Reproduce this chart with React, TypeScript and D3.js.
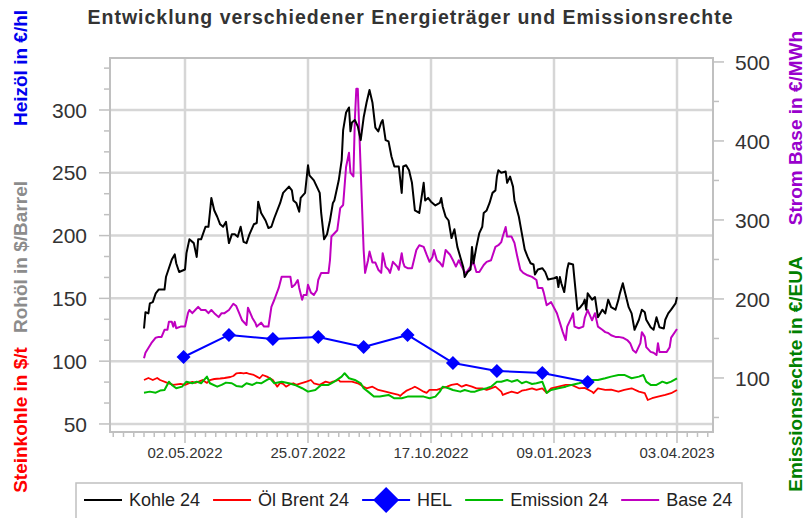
import { useEffect, useRef } from 'react';
import * as d3 from 'd3';

// Steinkohle (Kohle 24), $/t, left axis
const kohle24: [string, number][] = [
  ['2022-04-04',126],['2022-04-05',139],['2022-04-07',138],['2022-04-08',146],['2022-04-10',147],['2022-04-12',154],['2022-04-14',157],['2022-04-18',157],['2022-04-19',167],['2022-04-21',174],['2022-04-23',181],['2022-04-25',185],['2022-04-26',178],['2022-04-28',171],
  ['2022-05-02',173],['2022-05-03',186],['2022-05-05',197],['2022-05-08',194],['2022-05-10',183],['2022-05-11',197],['2022-05-13',197],['2022-05-16',207],['2022-05-18',207],['2022-05-19',218],['2022-05-20',230],['2022-05-22',220],['2022-05-24',215],['2022-05-26',209],['2022-05-28',207],['2022-05-30',211],
  ['2022-06-01',194],['2022-06-03',201],['2022-06-05',201],['2022-06-07',199],['2022-06-09',207],['2022-06-11',195],['2022-06-13',194],['2022-06-15',201],['2022-06-18',209],['2022-06-20',210],['2022-06-21',227],['2022-06-23',218],['2022-06-26',212],['2022-06-28',206],['2022-06-30',207],
  ['2022-07-02',214],['2022-07-06',226],['2022-07-08',234],['2022-07-12',239],['2022-07-14',236],['2022-07-15',228],['2022-07-17',226],['2022-07-19',219],['2022-07-20',230],['2022-07-23',234],['2022-07-25',256],['2022-07-26',248],['2022-07-29',244],['2022-07-31',239],
  ['2022-08-02',234],['2022-08-03',218],['2022-08-05',197],['2022-08-07',201],['2022-08-09',212],['2022-08-11',226],['2022-08-12',228],['2022-08-15',244],['2022-08-17',260],['2022-08-18',284],['2022-08-20',298],['2022-08-22',302],['2022-08-23',283],['2022-08-24',290],['2022-08-26',292],['2022-08-28',287],['2022-08-30',276],
  ['2022-09-01',294],['2022-09-03',306],['2022-09-05',316],['2022-09-07',306],['2022-09-09',286],['2022-09-11',283],['2022-09-13',290],['2022-09-14',292],['2022-09-16',276],['2022-09-18',275],['2022-09-20',263],['2022-09-22',255],['2022-09-25',255],['2022-09-27',234],['2022-09-28',255],['2022-09-30',256],
  ['2022-10-02',252],['2022-10-04',242],['2022-10-06',220],['2022-10-09',218],['2022-10-11',234],['2022-10-12',242],['2022-10-13',228],['2022-10-15',230],['2022-10-17',227],['2022-10-20',224],['2022-10-23',226],['2022-10-24',230],['2022-10-25',223],['2022-10-27',215],['2022-10-29',212],['2022-10-30',205],['2022-10-31',198],
  ['2022-11-02',205],['2022-11-04',191],['2022-11-06',183],['2022-11-08',175],['2022-11-09',167],['2022-11-11',171],['2022-11-13',173],['2022-11-14',191],['2022-11-15',178],['2022-11-17',191],['2022-11-19',202],['2022-11-21',207],['2022-11-22',218],['2022-11-24',220],['2022-11-26',226],['2022-11-28',234],['2022-11-30',236],
  ['2022-12-01',247],['2022-12-02',252],['2022-12-04',250],['2022-12-07',251],['2022-12-08',242],['2022-12-10',247],['2022-12-12',239],['2022-12-13',228],['2022-12-16',215],['2022-12-18',202],['2022-12-20',189],['2022-12-22',183],['2022-12-24',178],['2022-12-26',177],['2022-12-27',169],['2022-12-29',173],
  ['2023-01-01',174],['2023-01-03',171],['2023-01-05',165],['2023-01-09',166],['2023-01-11',167],['2023-01-12',159],['2023-01-13',167],['2023-01-14',162],['2023-01-16',155],['2023-01-18',173],['2023-01-19',178],['2023-01-22',177],['2023-01-23',165],['2023-01-25',141],['2023-01-27',143],['2023-01-29',146],['2023-01-30',149],['2023-01-31',141],
  ['2023-02-01',154],['2023-02-04',149],['2023-02-06',151],['2023-02-08',135],['2023-02-11',141],['2023-02-13',138],['2023-02-15',149],['2023-02-17',143],['2023-02-20',141],['2023-02-22',149],['2023-02-23',154],['2023-02-25',162],['2023-02-26',157],
  ['2023-03-01',143],['2023-03-03',138],['2023-03-05',125],['2023-03-08',133],['2023-03-10',141],['2023-03-12',139],['2023-03-13',133],['2023-03-16',127],['2023-03-18',125],['2023-03-20',135],['2023-03-22',127],['2023-03-25',126],['2023-03-26',133],['2023-03-28',138],['2023-03-30',141],['2023-04-02',146],['2023-04-03',151],
];

// Rohöl (Öl Brent 24), $/Barrel, left axis
const brent24: [string, number][] = [
  ['2022-04-04',85.0],['2022-04-07',86.6],['2022-04-10',85.0],['2022-04-13',86.6],['2022-04-15',85.0],['2022-04-20',82.7],['2022-04-22',81.9],['2022-04-24',81.1],['2022-04-29',81.9],
  ['2022-05-02',81.1],['2022-05-07',83.5],['2022-05-09',82.7],['2022-05-11',83.5],['2022-05-14',85.0],['2022-05-17',82.7],['2022-05-19',85.0],['2022-05-22',85.8],['2022-05-26',86.2],['2022-05-29',86.6],
  ['2022-06-02',87.4],['2022-06-04',88.2],['2022-06-06',90.2],['2022-06-09',90.6],['2022-06-11',90.2],['2022-06-13',90.6],['2022-06-15',89.8],['2022-06-18',89.0],['2022-06-20',87.7],['2022-06-22',86.4],['2022-06-24',89.0],['2022-06-27',87.7],['2022-06-29',86.4],
  ['2022-07-01',85.0],['2022-07-04',79.7],['2022-07-06',82.7],['2022-07-08',81.9],['2022-07-10',79.7],['2022-07-13',81.9],['2022-07-15',82.4],['2022-07-17',81.1],['2022-07-19',81.9],['2022-07-24',83.7],['2022-07-27',85.0],['2022-07-29',82.4],
  ['2022-08-02',81.1],['2022-08-06',83.7],['2022-08-09',82.7],['2022-08-11',83.7],['2022-08-15',85.0],['2022-08-16',83.7],['2022-08-19',83.7],['2022-08-24',83.7],['2022-08-28',82.4],
  ['2022-09-01',79.7],['2022-09-03',78.4],['2022-09-07',79.7],['2022-09-11',77.1],['2022-09-16',75.7],['2022-09-20',74.5],['2022-09-25',73.1],['2022-09-26',72.3],['2022-09-28',74.5],['2022-09-30',76.3],
  ['2022-10-04',78.4],['2022-10-06',79.7],['2022-10-08',78.4],['2022-10-12',75.7],['2022-10-14',74.7],['2022-10-16',77.1],['2022-10-21',77.1],['2022-10-24',78.4],['2022-10-28',79.7],['2022-10-31',81.1],
  ['2022-11-04',81.9],['2022-11-07',79.7],['2022-11-10',81.1],['2022-11-14',79.7],['2022-11-17',78.4],['2022-11-21',78.4],['2022-11-24',77.1],['2022-11-27',78.4],['2022-11-30',79.7],
  ['2022-12-04',75.7],['2022-12-05',73.1],['2022-12-08',74.5],['2022-12-11',75.7],['2022-12-15',74.5],['2022-12-18',76.5],['2022-12-21',77.1],['2022-12-25',78.4],['2022-12-28',77.1],
  ['2023-01-01',78.4],['2023-01-04',74.7],['2023-01-07',78.4],['2023-01-12',79.7],['2023-01-17',81.1],['2023-01-21',81.1],['2023-01-26',78.4],['2023-01-30',78.7],
  ['2023-02-04',75.7],['2023-02-05',74.5],['2023-02-08',78.4],['2023-02-13',77.1],['2023-02-17',77.3],['2023-02-22',75.7],['2023-02-26',77.1],
  ['2023-03-03',78.4],['2023-03-08',75.7],['2023-03-12',74.5],['2023-03-14',69.1],['2023-03-17',70.5],['2023-03-21',71.8],['2023-03-26',73.1],['2023-03-30',74.5],['2023-04-03',77.1],
];

// Heizöl (HEL), €/hl, left axis, monthly
const helDates = ['2022-05-01','2022-06-01','2022-07-01','2022-08-01','2022-09-01','2022-10-01','2022-11-01','2022-12-01','2023-01-01','2023-02-01'];
const helValues = [103.3, 120.9, 117.7, 119.3, 111.3, 120.9, 98.6, 92.2, 90.6, 83.4];

// Emissionsrechte (Emission 24), €/EUA, right axis
const emission24: [string, number][] = [
  ['2022-04-04',81.4],['2022-04-08',82.7],['2022-04-12',81.4],['2022-04-15',84.0],['2022-04-18',84.8],['2022-04-21',95.3],['2022-04-23',91.2],['2022-04-26',87.0],['2022-04-30',89.0],
  ['2022-05-03',95.3],['2022-05-07',93.3],['2022-05-10',95.3],['2022-05-13',93.3],['2022-05-17',101.7],['2022-05-19',93.3],['2022-05-24',89.0],['2022-05-27',91.2],['2022-05-30',94.1],
  ['2022-06-03',93.3],['2022-06-06',89.9],['2022-06-10',89.0],['2022-06-13',93.3],['2022-06-17',91.2],['2022-06-20',94.1],['2022-06-23',93.3],['2022-06-27',97.5],['2022-06-29',99.6],
  ['2022-07-02',93.3],['2022-07-07',95.3],['2022-07-12',93.3],['2022-07-16',91.2],['2022-07-21',87.0],['2022-07-25',82.7],['2022-07-30',84.8],
  ['2022-08-03',91.2],['2022-08-08',91.2],['2022-08-12',95.3],['2022-08-17',101.7],['2022-08-19',106.0],['2022-08-22',99.6],['2022-08-26',97.5],['2022-08-30',93.3],
  ['2022-09-01',87.0],['2022-09-04',82.7],['2022-09-08',76.4],['2022-09-12',76.4],['2022-09-18',78.5],['2022-09-22',74.3],['2022-09-27',74.3],
  ['2022-10-01',76.4],['2022-10-07',76.4],['2022-10-12',76.4],['2022-10-16',74.3],['2022-10-20',76.4],['2022-10-23',82.7],['2022-10-25',89.0],['2022-10-29',87.0],
  ['2022-11-01',84.8],['2022-11-06',82.7],['2022-11-09',84.8],['2022-11-13',82.7],['2022-11-16',82.7],['2022-11-19',84.8],['2022-11-24',87.0],['2022-11-27',89.0],
  ['2022-12-01',95.3],['2022-12-04',95.3],['2022-12-08',97.5],['2022-12-11',95.3],['2022-12-15',97.5],['2022-12-18',93.3],['2022-12-21',95.3],['2022-12-25',92.4],['2022-12-28',93.3],
  ['2023-01-01',95.3],['2023-01-04',81.0],['2023-01-07',84.8],['2023-01-12',87.0],['2023-01-17',89.0],['2023-01-21',91.2],['2023-01-26',93.3],['2023-01-30',95.3],
  ['2023-02-04',97.5],['2023-02-08',97.5],['2023-02-13',99.6],['2023-02-17',101.7],['2023-02-22',103.8],['2023-02-26',103.8],
  ['2023-03-03',99.6],['2023-03-08',101.7],['2023-03-11',103.8],['2023-03-13',95.3],['2023-03-16',91.2],['2023-03-20',91.2],['2023-03-24',95.3],['2023-03-27',93.3],['2023-03-30',95.3],['2023-04-03',99.6],
];

// Strom Base (Base 24), €/MWh, right axis
const base24: [string, number][] = [
  ['2022-04-04',125],['2022-04-05',132],['2022-04-07',138],['2022-04-09',144],['2022-04-12',151],['2022-04-14',152],['2022-04-16',152],['2022-04-18',161],['2022-04-20',161],['2022-04-21',171],['2022-04-23',171],['2022-04-24',165],['2022-04-25',171],['2022-04-26',163],['2022-04-29',165],
  ['2022-05-02',165],['2022-05-04',182],['2022-05-05',186],['2022-05-07',182],['2022-05-09',186],['2022-05-11',190],['2022-05-13',186],['2022-05-16',186],['2022-05-18',182],['2022-05-20',186],['2022-05-22',182],['2022-05-25',177],['2022-05-27',182],['2022-05-29',182],
  ['2022-06-01',186],['2022-06-04',194],['2022-06-06',191],['2022-06-08',182],['2022-06-10',173],['2022-06-13',167],['2022-06-14',189],['2022-06-17',176],['2022-06-19',170],['2022-06-20',165],['2022-06-23',170],['2022-06-25',165],['2022-06-28',165],['2022-06-30',190],
  ['2022-07-02',199],['2022-07-05',214],['2022-07-07',228],['2022-07-09',228],['2022-07-13',228],['2022-07-14',215],['2022-07-16',218],['2022-07-18',224],['2022-07-19',214],['2022-07-21',199],['2022-07-22',205],['2022-07-24',205],['2022-07-25',218],['2022-07-27',208],['2022-07-29',205],['2022-07-31',211],
  ['2022-08-01',224],['2022-08-03',233],['2022-08-06',233],['2022-08-08',233],['2022-08-09',249],['2022-08-10',279],['2022-08-14',287],['2022-08-16',315],['2022-08-18',319],['2022-08-20',367],['2022-08-22',385],['2022-08-23',360],['2022-08-25',355],['2022-08-26',427],['2022-08-27',466],['2022-08-28',466],['2022-08-30',363],
  ['2022-09-01',262],['2022-09-02',233],['2022-09-04',249],['2022-09-05',260],['2022-09-07',246],['2022-09-09',246],['2022-09-11',237],['2022-09-13',233],['2022-09-14',258],['2022-09-16',241],['2022-09-18',237],['2022-09-19',233],['2022-09-21',247],['2022-09-24',241],['2022-09-25',237],['2022-09-27',258],['2022-09-28',246],['2022-09-29',241],
  ['2022-10-01',239],['2022-10-04',239],['2022-10-07',262],['2022-10-09',268],['2022-10-12',266],['2022-10-14',256],['2022-10-16',247],['2022-10-18',253],['2022-10-19',262],['2022-10-21',249],['2022-10-23',246],['2022-10-25',241],['2022-10-27',262],['2022-10-30',256],
  ['2022-11-01',249],['2022-11-03',241],['2022-11-05',249],['2022-11-07',241],['2022-11-09',234],['2022-11-10',233],['2022-11-13',241],['2022-11-15',247],['2022-11-17',234],['2022-11-19',234],['2022-11-22',243],['2022-11-24',247],['2022-11-27',249],['2022-11-30',266],
  ['2022-12-02',268],['2022-12-04',272],['2022-12-05',279],['2022-12-07',291],['2022-12-08',279],['2022-12-11',279],['2022-12-13',271],['2022-12-15',253],['2022-12-17',237],['2022-12-19',233],['2022-12-22',230],['2022-12-25',228],['2022-12-28',224],['2022-12-29',214],
  ['2023-01-01',214],['2023-01-02',208],['2023-01-04',192],['2023-01-07',196],['2023-01-11',182],['2023-01-13',170],['2023-01-15',158],['2023-01-17',148],['2023-01-18',165],['2023-01-21',177],['2023-01-22',182],['2023-01-23',165],['2023-01-26',163],['2023-01-29',165],['2023-01-30',176],
  ['2023-02-01',186],['2023-02-04',173],['2023-02-06',182],['2023-02-08',165],['2023-02-11',161],['2023-02-13',158],['2023-02-15',157],['2023-02-17',154],['2023-02-20',152],['2023-02-22',152],['2023-02-25',151],['2023-02-28',148],
  ['2023-03-02',144],['2023-03-04',135],['2023-03-06',132],['2023-03-09',144],['2023-03-10',158],['2023-03-12',152],['2023-03-13',139],['2023-03-16',133],['2023-03-18',132],['2023-03-20',129],['2023-03-21',144],['2023-03-22',133],['2023-03-25',133],['2023-03-27',133],['2023-03-29',139],['2023-03-30',151],['2023-04-03',162],
];

const xTickDates = ['2022-05-02', '2022-07-25', '2022-10-17', '2023-01-09', '2023-04-03'];
const leftTicks = [50, 100, 150, 200, 250, 300];
const rightTicks = [100, 200, 300, 400, 500];

const legendItems = [
  { name: 'Kohle 24', color: '#000000', marker: false },
  { name: 'Öl Brent 24', color: '#ff0000', marker: false },
  { name: 'HEL', color: '#0000ff', marker: true },
  { name: 'Emission 24', color: '#00bb00', marker: false },
  { name: 'Base 24', color: '#c000c0', marker: false },
];

const W = 807;
const H = 518;
const FONT = "'Liberation Sans', Arial, sans-serif";

function App() {
  const ref = useRef<SVGSVGElement>(null);

  useEffect(() => {
    const svg = d3.select(ref.current);
    svg.selectAll('*').remove();

    const left = 110, right = 713, top = 58, bottom = 432;
    const parse = d3.timeParse('%Y-%m-%d');
    const fmt = d3.timeFormat('%d.%m.%Y');

    // anchor the time scale on the first and last labelled tick
    const anchor = d3.scaleTime()
      .domain([parse(xTickDates[0])!, parse(xTickDates[4])!])
      .range([185, 677]);
    const x = d3.scaleTime().domain([anchor.invert(left), anchor.invert(right)]).range([left, right]);
    const yL = d3.scaleLinear().domain([43.6, 341.4]).range([bottom, top]);
    const yR = d3.scaleLinear().domain([31.6, 505]).range([bottom, top]);

    const grid = svg.append('g').attr('stroke', '#d6d6d6').attr('stroke-width', 2.5);
    leftTicks.forEach(v => {
      grid.append('line').attr('x1', left).attr('x2', right).attr('y1', yL(v)).attr('y2', yL(v));
    });
    xTickDates.forEach(s => {
      const px = x(parse(s)!);
      grid.append('line').attr('x1', px).attr('x2', px).attr('y1', top).attr('y2', bottom);
    });

    svg.append('rect')
      .attr('x', left).attr('y', top).attr('width', right - left).attr('height', bottom - top)
      .attr('fill', 'none').attr('stroke', '#c0c0c0').attr('stroke-width', 2);

    const ticks = svg.append('g').attr('stroke', '#c0c0c0').attr('stroke-width', 1.5);
    // left axis ticks
    d3.range(0, 18).map(k => 50 + k * 50 / 3).forEach((v, k) => {
      if (v > yL.domain()[1]) return;
      const major = k % 3 === 0;
      ticks.append('line').attr('x1', left - (major ? 11 : 6)).attr('x2', left)
        .attr('y1', yL(v)).attr('y2', yL(v));
    });
    // right axis ticks
    d3.range(50, 501, 50).forEach(v => {
      const major = v % 100 === 0;
      ticks.append('line').attr('x1', right).attr('x2', right + (major ? 11 : 6))
        .attr('y1', yR(v)).attr('y2', yR(v));
    });
    // bottom ticks, weekly minor
    const d0 = parse(xTickDates[0])!;
    d3.range(-10, 60).forEach(k => {
      const dt = d3.timeDay.offset(d0, k * 7);
      const px = x(dt);
      if (px < left || px > right) return;
      const major = k % 12 === 0;
      ticks.append('line').attr('x1', px).attr('x2', px)
        .attr('y1', bottom).attr('y2', bottom + (major ? 11 : 5));
    });

    const labels = svg.append('g').attr('font-family', FONT).attr('fill', '#333');
    leftTicks.forEach(v => {
      labels.append('text').attr('x', 87).attr('y', yL(v)).attr('dy', '0.36em')
        .attr('text-anchor', 'end').attr('font-size', 21).text(v);
    });
    rightTicks.forEach(v => {
      labels.append('text').attr('x', 735).attr('y', yR(v)).attr('dy', '0.36em')
        .attr('text-anchor', 'start').attr('font-size', 21).text(v);
    });
    xTickDates.forEach(s => {
      const dt = parse(s)!;
      labels.append('text').attr('x', x(dt)).attr('y', 458)
        .attr('text-anchor', 'middle').attr('font-size', 15).text(fmt(dt));
    });

    // title
    svg.append('text').attr('x', 410).attr('y', 24).attr('text-anchor', 'middle')
      .attr('font-family', FONT).attr('font-weight', 'bold').attr('font-size', 19.5)
      .attr('textLength', 645).attr('lengthAdjust', 'spacing')
      .attr('fill', '#333').text('Entwicklung verschiedener Energieträger und Emissionsrechte');

    // axis titles
    const axisTitle = (cx: number, cy: number, txt: string, color: string) => {
      svg.append('text').attr('transform', `translate(${cx},${cy}) rotate(-90)`)
        .attr('text-anchor', 'middle').attr('font-family', FONT).attr('font-weight', 'bold')
        .attr('font-size', 19).attr('fill', color).text(txt);
    };
    axisTitle(27, 420, 'Steinkohle in $/t', '#ff0000');
    axisTitle(27, 257, 'Rohöl in $/Barrel', '#8c8c8c');
    axisTitle(27, 68, 'Heizöl in €/hl', '#0000ee');
    axisTitle(802, 374, 'Emissionsrechte in €/EUA', '#008000');
    axisTitle(802, 128, 'Strom Base in €/MWh', '#9900cc');

    // series
    const lineL = d3.line<[string, number]>().x(d => x(parse(d[0])!)).y(d => yL(d[1]));
    const lineR = d3.line<[string, number]>().x(d => x(parse(d[0])!)).y(d => yR(d[1]));
    const plot = svg.append('g').attr('fill', 'none').attr('stroke-linejoin', 'round');
    plot.append('path').attr('d', lineL(brent24)).attr('stroke', '#ff0000').attr('stroke-width', 1.8);
    plot.append('path').attr('d', lineR(emission24)).attr('stroke', '#00bb00').attr('stroke-width', 2);
    plot.append('path').attr('d', lineR(base24)).attr('stroke', '#c000c0').attr('stroke-width', 2);
    plot.append('path').attr('d', lineL(kohle24)).attr('stroke', '#000000').attr('stroke-width', 2);

    const hel: [string, number][] = helDates.map((d, i) => [d, helValues[i]]);
    plot.append('path').attr('d', lineL(hel)).attr('stroke', '#0000ff').attr('stroke-width', 2);
    const diamond = (r: number) => `M0,${-r}L${r},0L0,${r}L${-r},0Z`;
    svg.append('g').selectAll('path').data(hel).join('path')
      .attr('transform', d => `translate(${x(parse(d[0])!)},${yL(d[1])})`)
      .attr('d', diamond(7)).attr('fill', '#0000ff');

    // legend
    const lg = svg.append('g');
    lg.append('rect').attr('x', 76).attr('y', 483).attr('width', 666).attr('height', 40)
      .attr('fill', 'white').attr('stroke', '#c0c0c0').attr('stroke-width', 1.5);
    let cx = 84;
    const ly = 500;
    legendItems.forEach(it => {
      const len = it.marker ? 48 : 38;
      lg.append('line').attr('x1', cx).attr('x2', cx + len).attr('y1', ly).attr('y2', ly)
        .attr('stroke', it.color).attr('stroke-width', 2);
      if (it.marker) {
        lg.append('path').attr('transform', `translate(${cx + len / 2},${ly})`)
          .attr('d', diamond(13)).attr('fill', it.color);
      }
      cx += len + 7;
      const t = lg.append('text').attr('x', cx).attr('y', ly).attr('dy', '0.36em')
        .attr('font-family', FONT).attr('font-size', 18).attr('fill', '#222').text(it.name);
      cx += (t.node() as SVGTextElement).getComputedTextLength() + 13;
    });
  }, []);

  return (
    <svg ref={ref} width={W} height={H}
      style={{ position: 'absolute', left: 0, top: 0, background: 'white' }} />
  );
}

export default App;
